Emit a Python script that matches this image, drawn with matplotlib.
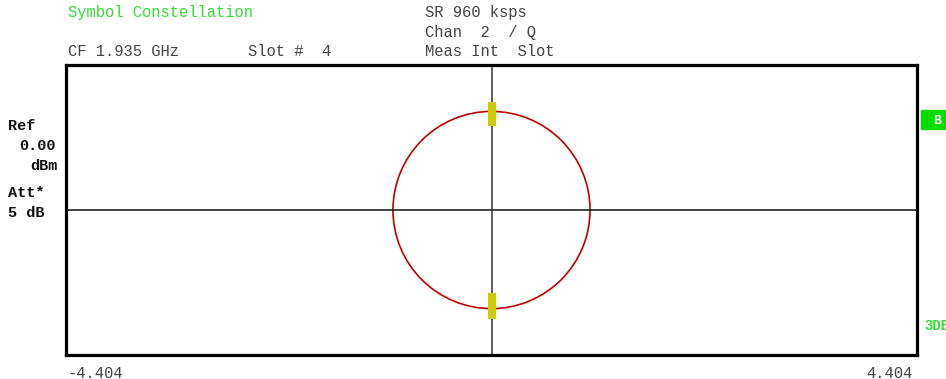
import matplotlib.pyplot as plt
from matplotlib.patches import Ellipse, Rectangle

# axis span (I) and display span (Q)
i_span = 4.404
q_span = 1.5

# I/Q trajectory amplitude (red trace)
traj_i_amp = 1.02
traj_q_amp = 1.02

# symbol decision points (yellow)
sym_i = [0, 0, 0, 0, 0, 0, 0, 0, 0, 0]
sym_q = [1.08, 1.04, 1.00, 0.95, 0.91, -0.90, -0.95, -1.00, -1.05, -1.09]

header_left = ['Symbol Constellation', 'CF 1.935 GHz', 'Slot #  4']
header_right = ['SR 960 ksps', 'Chan  2  / Q', 'Meas Int  Slot']
side_labels = ['Ref', '0.00', 'dBm', 'Att*', '5 dB']

W, H = 946, 379
fig = plt.figure(figsize=(W / 100, H / 100), dpi=100)
fig.patch.set_facecolor('white')

ax = fig.add_axes([66 / W, 1 - 355 / H, (917 - 66) / W, (355 - 65) / H])
ax.set_xlim(-i_span, i_span)
ax.set_ylim(-q_span, q_span)
ax.set_xticks([])
ax.set_yticks([])
for s in ax.spines.values():
    s.set_linewidth(2.3)
    s.set_color('black')

ax.axhline(0, color='#111111', lw=1.1)
ax.axvline(0, color='#333333', lw=1.1)

ax.add_patch(Ellipse((0, 0), 2 * traj_i_amp, 2 * traj_q_amp, fill=False,
                     ec='#c00000', lw=1.2))
ax.scatter(sym_i, sym_q, marker='s', s=40, color='#cccc00', zorder=5, lw=0)

mono = 'Liberation Mono'
grey = '#444444'
green = '#33dd33'
fs = 11.2

fig.text(68 / W, 1 - 12 / H, header_left[0], color=green, family=mono,
         fontsize=fs, va='center')
fig.text(68 / W, 1 - 51 / H, header_left[1], color=grey, family=mono,
         fontsize=fs, va='center')
fig.text(248 / W, 1 - 51 / H, header_left[2], color=grey, family=mono,
         fontsize=fs, va='center')
for k, y in enumerate([12, 32, 51]):
    fig.text(425 / W, 1 - y / H, header_right[k], color=grey, family=mono,
             fontsize=fs, va='center')

side_pos = [(8, 126), (19, 146), (30, 166), (8, 193), (8, 213)]
for lab, (x, y) in zip(side_labels, side_pos):
    fig.text(x / W, 1 - y / H, lab, color='#111111', family=mono,
             fontsize=11, weight='bold', va='center')

fig.patches.append(Rectangle((921 / W, 1 - 129 / H), 30 / W, 19 / H,
                             transform=fig.transFigure, color='#00dd00'))
fig.text(933 / W, 1 - 121 / H, 'B', color='white', family=mono,
         fontsize=9.5, weight='bold', va='center')
fig.text(924 / W, 1 - 326 / H, '3DB', color=green, family=mono,
         fontsize=10, weight='bold', va='center')

fig.text(68 / W, 1 - 373 / H, '-4.404', color=grey, family=mono,
         fontsize=fs, va='center')
fig.text(912 / W, 1 - 373 / H, '4.404', color=grey, family=mono,
         fontsize=fs, va='center', ha='right')

fig.savefig('out.png', dpi=100)
